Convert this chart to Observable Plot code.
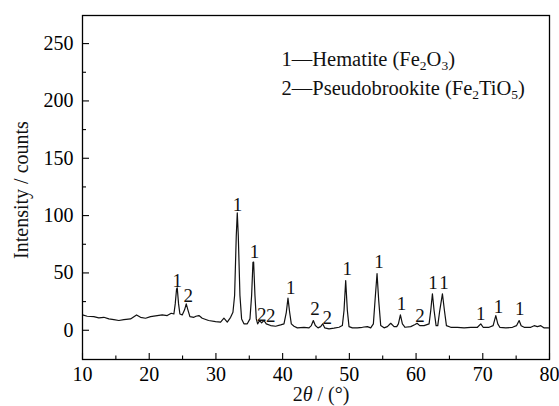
<!DOCTYPE html>
<html>
<head>
<meta charset="utf-8">
<script src="https://cdn.jsdelivr.net/npm/d3@7"></script>
<script src="https://cdn.jsdelivr.net/npm/@observablehq/plot@0.6"></script>
<style>
  html, body { margin: 0; padding: 0; background: #fff; }
  #chart { width: 559px; height: 406px; }
</style>
</head>
<body>
<div id="chart"></div>
<script>
const twoTheta = [
  10.0, 10.7, 11.7, 12.45, 13.2, 13.95, 14.7, 15.45, 16.2, 17.2, 18.1, 18.7, 19.45, 20.2, 21.2, 21.95, 22.7, 23.3, 23.7, 23.9, 24.1, 24.2, 24.4, 24.6, 24.95, 25.3, 25.55, 25.8, 26.1, 26.7, 27.0, 27.45,
  27.95, 28.9, 29.95, 30.7, 31.2, 31.7, 32.2, 32.55, 32.8, 33.05, 33.2, 33.35, 33.6, 33.85, 34.2, 34.7, 35.1, 35.35, 35.55, 35.65, 35.85, 36.05, 36.25, 36.55, 36.85, 37.2, 37.55, 38.2, 38.95, 39.7, 40.2, 40.55, 40.8, 41.05, 41.3, 41.7,
  42.2, 43.2, 43.95, 44.3, 44.6, 44.9, 45.3, 45.7, 46.0, 46.3, 46.95, 47.7, 48.45, 48.95, 49.2, 49.45, 49.7, 49.95, 50.45, 51.2, 51.95, 52.7, 53.2, 53.6, 53.85, 54.15, 54.4, 54.7, 55.2, 55.7, 56.2, 56.7, 57.1,
  57.35, 57.65, 57.95, 58.35, 59.2, 59.85, 60.15, 60.55, 61.2, 61.95, 62.2, 62.45, 62.7, 63.0, 63.25, 63.55, 63.95, 64.25, 64.55, 65.2, 66.2, 67.2, 68.2, 69.2, 69.7, 70.05, 70.95, 71.55, 71.95, 72.25, 72.55, 73.45, 74.45, 75.05, 75.45, 75.75, 76.2, 77.2, 77.7, 78.2, 78.7, 79.2, 79.85
];
const intensity = [
  13.4, 12.2, 11.9, 10.8, 11.3, 9.9, 9.3, 8.5, 9.3, 9.9, 13.4, 11.3, 10.5, 11.9, 12.8, 13.4, 12.8, 14.8, 14.2, 23, 36, 37, 23, 14.2, 13.4, 17.8, 23, 17.8, 11.9, 11.3, 12.2, 12.8,
  10.5, 8.5, 7.6, 7.1, 10.5, 7.1, 11.3, 15.7, 30.3, 82.6, 102.4, 82.6, 30.3, 9.9, 5.6, 5.6, 9.9, 30.3, 59.3, 59.5, 30.3, 9.9, 5.6, 8.5, 6.4, 8.5, 5.6, 4.1, 3.5, 4.7, 5.6, 15.7, 28, 15.7, 5.6, 3.5,
  2.1, 2.6, 2.1, 4.1, 8.5, 4.1, 2.1, 3.2, 5.6, 2.1, 1.2, 1.8, 2.6, 4.1, 17.2, 43.4, 17.2, 3.2, 2.1, 2.1, 2.6, 3.2, 2.1, 5.6, 25.9, 49.5, 25.9, 4.1, 2.1, 3.2, 6.1, 3.2, 3.2,
  5.6, 13.4, 5.6, 2.6, 3.2, 5.0, 6.1, 4.0, 4.0, 5.6, 17.2, 31.8, 17.2, 4.0, 4.0, 17.2, 31.8, 17.2, 4.0, 2.6, 2.6, 2.0, 2.6, 2.6, 5.6, 2.6, 2.6, 4.0, 12.8, 5.6, 2.6, 2.0, 2.6, 4.0, 8.5, 4.0, 2.6, 2.6, 4.0, 3.2, 4.0, 2.0, 2.0
];

// peak markers: phase number and its position
const peakLabelX = [24.2, 25.85, 33.25, 35.8, 36.85, 38.2, 41.2, 44.85, 46.7, 49.7, 54.45, 57.8, 60.6, 62.55, 64.2, 69.7, 72.35, 75.55];
const peakLabelY = [43.4, 30.3, 109.7, 68, 13.7, 12.2, 37.3, 18.7, 10.8, 53.6, 59.3, 23, 12.8, 41, 41, 14.3, 20.7, 18.7];
const peakLabelText = ["1", "2", "1", "1", "2", "2", "1", "2", "2", "1", "1", "1", "2", "1", "1", "1", "1", "1"];

const xMajor = [10, 20, 30, 40, 50, 60, 70, 80];
const xMinor = [15, 25, 35, 45, 55, 65, 75];
const yMajor = [0, 50, 100, 150, 200, 250];
const yMinor = [25, 75, 125, 175, 225];

const pattern = twoTheta.map((t, i) => ({t, v: intensity[i]}));
const peaks = peakLabelX.map((t, i) => ({t, v: peakLabelY[i], s: peakLabelText[i]}));

const W = 559, H = 406;
const mL = 82, mR = 10, mT = 15, mB = 47;
const plotW = W - mL - mR, plotH = H - mT - mB;
const FONT = "Liberation Serif, Tinos, DejaVu Serif, serif";

const chart = Plot.plot({
  width: W,
  height: H,
  marginLeft: mL,
  marginRight: mR,
  marginTop: mT,
  marginBottom: mB,
  style: {fontFamily: FONT, fontSize: "20px", color: "#000", background: "#fff"},
  x: {domain: [10, 80]},
  y: {domain: [-25.5, 274.5]},
  marks: [
    Plot.line(pattern, {x: "t", y: "v", stroke: "#111", strokeWidth: 1.2}),
    Plot.text(peaks, {x: "t", y: "v", text: "s", fontSize: 19, fill: "#111"}),
    Plot.tickX(xMajor, {x: d => d, insetTop: plotH - 6, stroke: "#000", strokeWidth: 1.1}),
    Plot.tickX(xMinor, {x: d => d, insetTop: plotH - 3.5, stroke: "#000", strokeWidth: 1.1}),
    Plot.tickY(yMajor, {y: d => d, insetRight: plotW - 7, stroke: "#000", strokeWidth: 1.1}),
    Plot.tickY(yMinor, {y: d => d, insetRight: plotW - 4, stroke: "#000", strokeWidth: 1.1}),
    Plot.axisX({ticks: xMajor, tickSize: 0, tickPadding: 7, fontSize: 20, label: null}),
    Plot.axisY({ticks: yMajor, tickSize: 0, tickPadding: 9, fontSize: 20, label: null}),
    Plot.frame({stroke: "#000", strokeWidth: 1.3})
  ]
});

document.getElementById("chart").appendChild(chart);

// titles and the phase key, with sub-/italic formatting
const svg = d3.select(chart);
const g = svg.append("g").attr("font-family", FONT).attr("fill", "#111");

g.append("text")
  .attr("transform", "translate(28,190) rotate(-90)")
  .attr("text-anchor", "middle")
  .attr("font-size", 20)
  .text("Intensity / counts");

const xt = g.append("text")
  .attr("x", 321).attr("y", 401)
  .attr("text-anchor", "middle")
  .attr("font-size", 20);
xt.append("tspan").text("2");
xt.append("tspan").attr("font-style", "italic").text("θ");
xt.append("tspan").text(" / (°)");

function keyLine(y, parts) {
  const t = g.append("text").attr("x", 281.5).attr("y", y)
    .attr("text-anchor", "start").attr("font-size", 20.5);
  let prevSub = false;
  for (const [s, sub] of parts) {
    const sp = t.append("tspan").text(s);
    if (sub) sp.attr("font-size", 13.5).attr("dy", 4);
    else if (prevSub) sp.attr("dy", -4);
    prevSub = sub;
  }
}
keyLine(66, [["1—Hematite (Fe", false], ["2", true], ["O", false], ["3", true], [")", false]]);
keyLine(95, [["2—Pseudobrookite (Fe", false], ["2", true], ["TiO", false], ["5", true], [")", false]]);
</script>
</body>
</html>
